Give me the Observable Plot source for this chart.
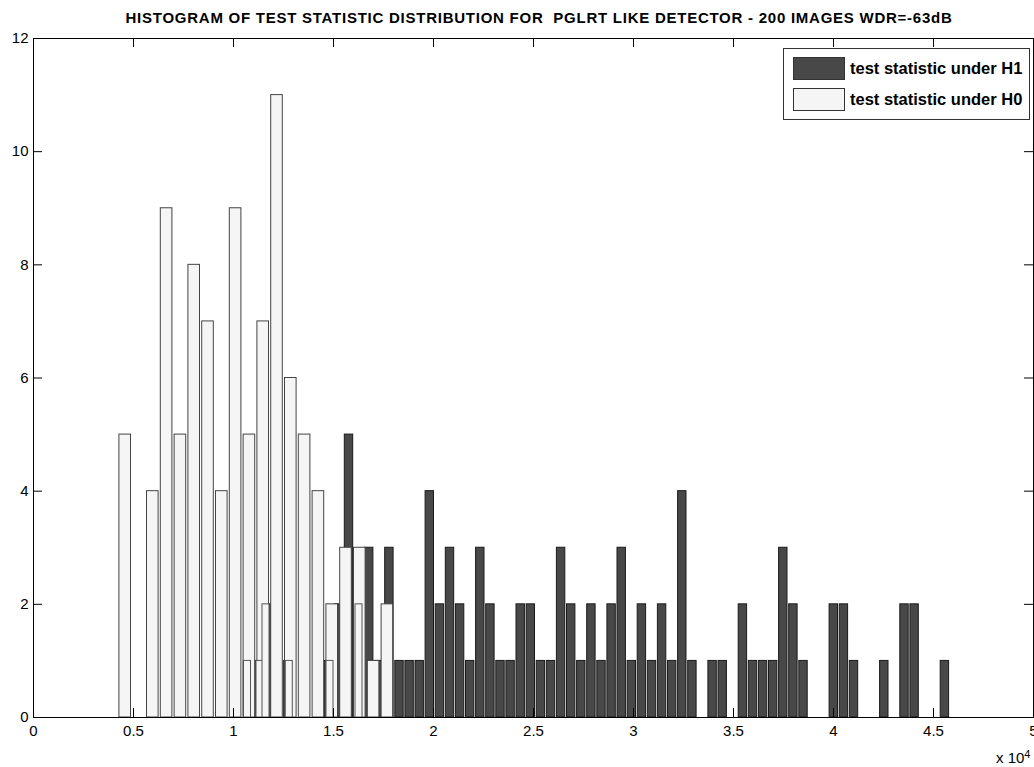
<!DOCTYPE html>
<html><head><meta charset="utf-8">
<script src="https://cdn.jsdelivr.net/npm/d3@7"></script>
<script src="https://cdn.jsdelivr.net/npm/@observablehq/plot@0.6"></script>
<style>
body{margin:0;background:#fff;font-family:"Liberation Sans",Arial,sans-serif;}
#wrap{position:relative;width:1034px;height:767px;overflow:hidden;}
#title{position:absolute;left:0;width:1078px;top:9px;text-align:center;font-weight:bold;font-size:15px;letter-spacing:0.75px;line-height:17px;color:#000;white-space:nowrap;}
#legend{position:absolute;left:783px;top:48px;width:245px;height:70px;border:1px solid #333;background:#fff;box-sizing:content-box;}
.item{position:absolute;left:9px;height:23px;}
.sw{position:absolute;left:0;top:0;width:52px;height:23px;box-sizing:border-box;border:1px solid #333;}
.lab{position:absolute;left:57px;top:2px;font-weight:bold;font-size:16.5px;white-space:nowrap;color:#000;}
#expo{position:absolute;left:996px;top:751px;font-size:15px;line-height:14px;color:#000;white-space:nowrap;}
#expo sup{font-size:11px;line-height:11px;position:relative;top:-2px;vertical-align:top;}
</style></head>
<body><div id="wrap">
<div id="title">HISTOGRAM OF TEST STATISTIC DISTRIBUTION FOR&nbsp; PGLRT LIKE DETECTOR - 200 IMAGES WDR=-63dB</div>
<div id="chart"></div>
<div id="legend"></div>
<div id="expo">x 10<sup>4</sup></div>
</div>
<script>
// Series names (legend order)
const seriesNames = ["test statistic under H1", "test statistic under H0"];

// H1 histogram: bin centers (x 10^4) and counts
const h1Centers = [1.0725, 1.123, 1.1735, 1.2745, 1.4765, 1.527, 1.5775, 1.628, 1.6785, 1.729, 1.7795,
  1.83, 1.8805, 1.931, 1.9815, 2.032, 2.0825, 2.133, 2.1835, 2.234, 2.2845, 2.335, 2.3855, 2.436, 2.4865,
  2.537, 2.5875, 2.638, 2.6885, 2.739, 2.7895, 2.84, 2.8905, 2.941, 2.9915, 3.042, 3.0925, 3.143, 3.1935,
  3.244, 3.2945, 3.3955, 3.446, 3.547, 3.5975, 3.648, 3.6985, 3.749, 3.7995, 3.85, 4.0015, 4.052, 4.1025,
  4.254, 4.355, 4.4055, 4.557];
const h1Counts = [1, 1, 2, 1, 1, 2, 5, 2, 3, 1, 3,
  1, 1, 1, 4, 2, 3, 2, 1, 3, 2, 1, 1, 2, 2,
  1, 1, 3, 2, 1, 2, 1, 2, 3, 1, 2, 1, 2, 1,
  4, 1, 1, 1, 2, 1, 1, 1, 3, 2, 1, 2, 2, 1,
  1, 2, 2, 1];

// H0 histogram: bin centers (x 10^4) and counts
const h0Centers = [0.4585, 0.5965, 0.6655, 0.7345, 0.8035, 0.8725, 0.9415, 1.0105, 1.0795, 1.1485,
  1.2175, 1.2865, 1.3555, 1.4245, 1.4935, 1.5625, 1.6315, 1.7005, 1.7695];
const h0Counts = [5, 4, 9, 5, 8, 7, 4, 9, 5, 7, 11, 6, 5, 4, 2, 3, 3, 1, 2];

// Extra narrow light bars drawn over the H0 histogram
const h0bCenters = [1.070, 1.1325, 1.1625, 1.279, 1.4825, 1.6275];
const h0bCounts = [1, 1, 2, 1, 1, 2];

// Axis ticks
const xTicks = [0, 0.5, 1, 1.5, 2, 2.5, 3, 3.5, 4, 4.5, 5];
const yTicks = [0, 2, 4, 6, 8, 10, 12];

const colors = ["#484848", "#f5f5f5"];
const W1 = 0.042, W0 = 0.058, W0b = 0.035;

const h1 = h1Centers.map((x, i) => ({x, n: h1Counts[i]}));
const h0 = h0Centers.map((x, i) => ({x, n: h0Counts[i]}));
const h0b = h0bCenters.map((x, i) => ({x, n: h0bCounts[i]}));

const plot = Plot.plot({
  width: 1034, height: 767,
  marginLeft: 33, marginRight: 1, marginTop: 38, marginBottom: 50,
  x: {domain: [0, 5]},
  y: {domain: [0, 12]},
  style: {fontFamily: "'Liberation Sans', Arial, sans-serif", fontSize: "15px", color: "#000", background: "#fff"},
  marks: [
    Plot.rectY(h1, {x1: d => d.x - W1 / 2, x2: d => d.x + W1 / 2, y1: 0, y2: "n", fill: colors[0], stroke: "#1a1a1a", strokeWidth: 1}),
    Plot.rectY(h0, {x1: d => d.x - W0 / 2, x2: d => d.x + W0 / 2, y1: 0, y2: "n", fill: colors[1], stroke: "#444", strokeWidth: 1}),
    Plot.rectY(h0b, {x1: d => d.x - W0b / 2, x2: d => d.x + W0b / 2, y1: 0, y2: "n", fill: colors[1], stroke: "#555", strokeWidth: 1}),
    Plot.tickX(xTicks, {insetTop: 670, stroke: "#000"}),
    Plot.tickX(xTicks, {insetBottom: 670, stroke: "#000"}),
    Plot.tickY(yTicks, {insetRight: 991, stroke: "#000"}),
    Plot.tickY(yTicks, {insetLeft: 991, stroke: "#000"}),
    Plot.frame({stroke: "#000"}),
    Plot.axisX(xTicks, {tickSize: 0, tickPadding: 8, label: null, fontSize: 15, tickFormat: d => String(d)}),
    Plot.axisY(yTicks, {tickSize: 0, tickPadding: 5, label: null, fontSize: 15, tickFormat: d => String(d)})
  ]
});
document.getElementById("chart").appendChild(plot);

// Legend
const leg = document.getElementById("legend");
seriesNames.forEach((name, i) => {
  const it = document.createElement("div");
  it.className = "item";
  it.style.top = (8 + i * 31) + "px";
  const sw = document.createElement("div");
  sw.className = "sw";
  sw.style.background = colors[i];
  const lab = document.createElement("div");
  lab.className = "lab";
  lab.textContent = name;
  it.appendChild(sw); it.appendChild(lab);
  leg.appendChild(it);
});
</script>
</body></html>
